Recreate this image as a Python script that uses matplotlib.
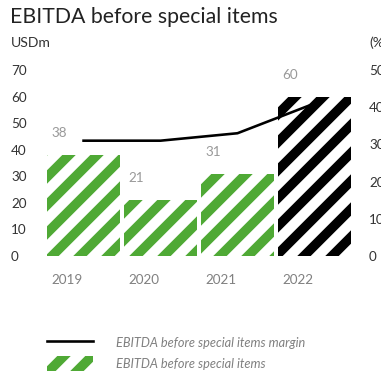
import numpy as np
import matplotlib.pyplot as plt

# EBITDA figures (USDm) and margin (%)
years = ["2019", "2020", "2021", "2022"]
ebitda = [38, 21, 31, 60]
margin = [31, 31, 33, 41]
bar_colors = ["#4fa935", "#4fa935", "#4fa935", "#000000"]

DPI = 168
W, H = 381, 372


def pt(px):
    # pixel size -> points at the figure dpi
    return px * 72 / DPI


plt.rcParams['font.family'] = ['Lato', 'DejaVu Sans']
plt.rcParams['hatch.linewidth'] = pt(9.5)

fig = plt.figure(figsize=(W / DPI, H / DPI), dpi=DPI)
ax = fig.add_axes([47 / W, 1 - 256 / H, (351 - 47) / W, (256 - 70) / H])

x = np.arange(len(years))
bars = ax.bar(x, ebitda, width=0.95, facecolor="white", edgecolor=bar_colors,
              linewidth=0, hatch="//", zorder=2)

# value labels sit up and to the left of each bar
for xi, v in zip(x, ebitda):
    ax.annotate(str(v), (xi - 0.32, v), xytext=(0, pt(22)), textcoords="offset points",
                ha="center", va="center", fontsize=pt(13.5), color="#999999")

ax.set_xlim(-0.475, 3.475)
ax.set_ylim(0, 70)
ax.set_yticks(range(0, 71, 10))
ax.set_xticks(x - 0.21)
ax.set_xticklabels(years)
ax.tick_params(axis="x", length=0, pad=pt(18), labelsize=pt(13.5), labelcolor="#808080")
ax.tick_params(axis="y", length=0, pad=pt(36), labelsize=pt(13.5), labelcolor="#333333")
for lbl in ax.get_yticklabels():
    lbl.set_ha("left")
for s in ax.spines.values():
    s.set_visible(False)

# margin on the right-hand axis
ax2 = ax.twinx()
line, = ax2.plot(x, margin, color="black", lw=pt(2.6), zorder=3)
ax2.set_ylim(0, 50)
ax2.set_yticks(range(0, 51, 10))
ax2.tick_params(axis="y", length=0, pad=pt(18), labelsize=pt(13.5), labelcolor="#333333")
for s in ax2.spines.values():
    s.set_visible(False)

fig.text(10 / W, 1 - 17 / H, "EBITDA before special items", fontsize=pt(21.3),
         color="#222222", va="center", ha="left")
fig.text(11 / W, 1 - 43 / H, "USDm", fontsize=pt(14), color="#333333", va="center")
fig.text(369 / W, 1 - 43 / H, "(%)", fontsize=pt(14), color="#333333", va="center")

fig.legend([line, bars], ["EBITDA before special items margin", "EBITDA before special items"],
           loc="upper left", bbox_to_anchor=(47 / W, 1 - 335 / H), frameon=False,
           handlelength=3.6, handleheight=1.45, labelspacing=0.45,
           handletextpad=1.85, borderpad=0, borderaxespad=0,
           prop={"style": "italic", "size": pt(12.7)}, labelcolor="#808080")

fig.savefig("out.png", dpi=DPI)
